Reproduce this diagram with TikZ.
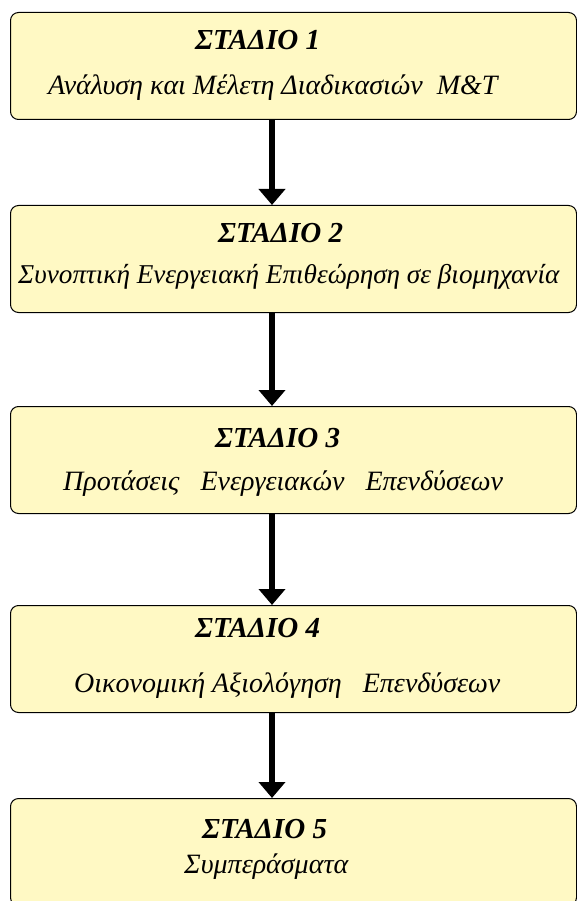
\documentclass[tikz,border=0pt]{standalone}
\usepackage{fontspec}
\setmainfont{Liberation Serif}
\usetikzlibrary{arrows.meta}
\usetikzlibrary{positioning}

\definecolor{stagefill}{RGB}{255,249,196}

\begin{document}
\begin{tikzpicture}
[
	x								= 1pt,
	y								= -1pt,
	%
	% box | title | text | arrow
	stagebox/.style					=
	{
		draw						= black,
		line width					= 1pt,
		fill						= stagefill,
		rounded corners				= 8pt,
		minimum width				= 566pt,
		minimum height				= 107pt,
		inner sep					= 0pt,
		anchor						= north west
	},
	stagetitle/.style				=
	{
		anchor						= base west,
		inner sep					= 0pt,
		font						= \fontsize{29}{32}\selectfont\bfseries\itshape
	},
	stagetext/.style				=
	{
		anchor						= base west,
		inner sep					= 0pt,
		font						= \fontsize{28}{31}\selectfont\itshape
	},
	flow/.style						=
	{
		line width					= 6pt,
		-{Triangle[width=26pt,length=16pt]}
	},
]
	\useasboundingbox (0,0) rectangle (577,901);

	\node (s1) [stagebox] at (10,12) {};
	\node (s2) [stagebox] at (10,205) {};
	\node (s3) [stagebox] at (10,406) {};
	\node (s4) [stagebox] at (10,605) {};
	\node (s5) [stagebox] at (10,798) {};

	\node (t1) [stagetitle] at (195,50) {ΣΤΑΔΙΟ 1};
	\node (d1) [stagetext] at (48,95) {Ανάλυση και Μέλετη Διαδικασιών\ \ M\&T};

	\node (t2) [stagetitle] at (218,242) {ΣΤΑΔΙΟ 2};
	% a bit smaller, so that the line stays inside the page
	\node (d2) [stagetext, font=\fontsize{27.2}{30}\selectfont\itshape] at (18,283)
		{Συνοπτική Ενεργειακή Επιθεώρηση σε βιομηχανία};

	\node (t3) [stagetitle] at (215,447) {ΣΤΑΔΙΟ 3};
	\node (d3) [stagetext] at (63,490) {Προτάσεις\ \ \ Ενεργειακών\ \ \ Επενδύσεων};

	\node (t4) [stagetitle] at (195,637) {ΣΤΑΔΙΟ 4};
	\node (d4) [stagetext] at (74,692) {Οικονομική Αξιολόγηση\ \ \ Επενδύσεων};

	\node (t5) [stagetitle] at (202,838) {ΣΤΑΔΙΟ 5};
	\node (d5) [stagetext] at (184,873) {Συμπεράσματα};

	\coordinate (axis) at (272,0);
	\draw [flow] (s1.south -| axis) -- (s2.north -| axis);
	\draw [flow] (s2.south -| axis) -- (s3.north -| axis);
	\draw [flow] (s3.south -| axis) -- (s4.north -| axis);
	\draw [flow] (s4.south -| axis) -- (s5.north -| axis);

\end{tikzpicture}
\end{document}
